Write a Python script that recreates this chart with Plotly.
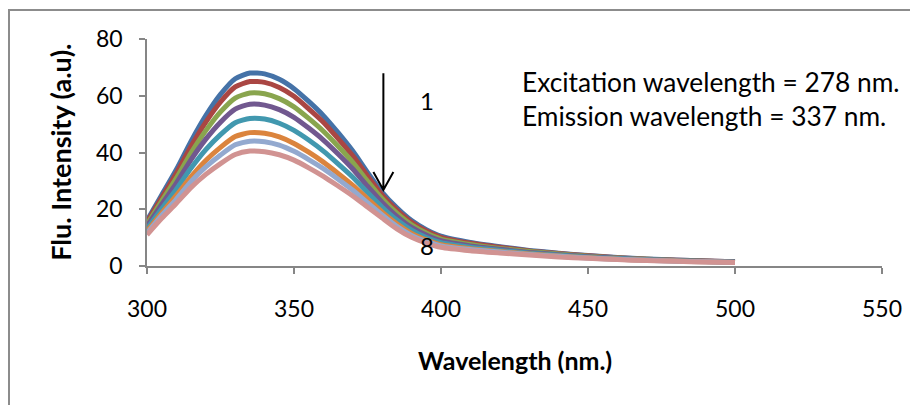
import plotly.graph_objects as go

wavelength = [300, 305, 310, 315, 320, 325, 330, 335, 340, 345, 350, 355, 360, 365, 370,
              375, 380, 385, 390, 395, 400, 410, 420, 430, 440, 450, 460, 470, 480, 490, 500]

s1 = [16.0, 25.0, 34.0, 44.0, 53.0, 60.5, 66.0, 68.0, 67.7, 65.8, 62.5, 58.0, 53.0, 47.0, 40.5,
      33.0, 26.0, 20.5, 16.0, 12.8, 10.5, 8.3, 6.8, 5.5, 4.5, 3.7, 3.0, 2.5, 2.1, 1.8, 1.5]
s2 = [15.5, 24.1, 32.7, 42.2, 50.7, 57.8, 63.1, 65.0, 64.7, 62.9, 59.8, 55.4, 50.7, 44.9, 38.8,
      31.7, 25.0, 19.7, 15.4, 12.3, 10.1, 8.0, 6.6, 5.3, 4.4, 3.6, 2.9, 2.4, 2.05, 1.76, 1.47]
s3 = [14.7, 22.9, 31.0, 39.9, 47.7, 54.3, 59.2, 61.0, 60.7, 59.0, 56.1, 52.0, 47.5, 42.2, 36.5,
      29.9, 23.7, 18.6, 14.5, 11.6, 9.5, 7.6, 6.2, 5.1, 4.2, 3.4, 2.8, 2.35, 1.98, 1.70, 1.42]
s4 = [14.0, 21.7, 29.2, 37.5, 44.7, 50.7, 55.3, 57.0, 56.7, 55.1, 52.4, 48.6, 44.4, 39.5, 34.2,
      28.1, 22.4, 17.5, 13.6, 10.9, 8.9, 7.1, 5.9, 4.8, 4.0, 3.3, 2.7, 2.27, 1.92, 1.65, 1.38]
s5 = [13.1, 20.2, 27.1, 34.5, 41.0, 46.3, 50.5, 52.0, 51.8, 50.3, 47.8, 44.4, 40.5, 36.0, 31.3,
      25.9, 20.7, 16.2, 12.6, 10.0, 8.2, 6.6, 5.5, 4.5, 3.8, 3.1, 2.6, 2.17, 1.83, 1.58, 1.33]
s6 = [12.2, 18.7, 24.9, 31.5, 37.2, 41.8, 45.6, 47.0, 46.8, 45.5, 43.2, 40.1, 36.6, 32.6, 28.4,
      23.7, 19.0, 14.9, 11.5, 9.2, 7.5, 6.1, 5.1, 4.2, 3.5, 2.9, 2.4, 2.06, 1.75, 1.51, 1.27]
s7 = [11.6, 17.8, 23.6, 29.8, 34.9, 39.1, 42.7, 44.0, 43.8, 42.6, 40.4, 37.5, 34.3, 30.6, 26.7,
      22.3, 18.0, 14.0, 10.8, 8.7, 7.1, 5.8, 4.9, 4.1, 3.4, 2.8, 2.35, 2.0, 1.7, 1.47, 1.24]
s8 = [11.0, 16.8, 22.1, 27.7, 32.3, 36.1, 39.3, 40.5, 40.3, 39.2, 37.3, 34.6, 31.6, 28.2, 24.7,
      20.8, 16.9, 13.1, 10.1, 8.1, 6.6, 5.4, 4.6, 3.9, 3.2, 2.7, 2.25, 1.9, 1.65, 1.4, 1.2]

series = [s1, s2, s3, s4, s5, s6, s7, s8]
colors = ["#4572A7", "#AA4643", "#89A54E", "#71588F", "#4198AF", "#DB843D", "#93A9CF", "#D19392"]

x_ticks = [300, 350, 400, 450, 500, 550]
y_ticks = [0, 20, 40, 60, 80]

FONT = "Lato"

fig = go.Figure()
for s, c in zip(series, colors):
    fig.add_trace(go.Scatter(x=wavelength, y=s, mode="lines",
                             line=dict(color=c, width=5, shape="spline", smoothing=0.6),
                             showlegend=False, hoverinfo="skip"))

axis_common = dict(showline=True, linecolor="#868686", linewidth=1.5, ticks="outside",
                   tickcolor="#868686", tickwidth=1.5, ticklen=6, showgrid=False,
                   zeroline=False, tickfont=dict(family=FONT, size=23, color="black"))

fig.update_xaxes(range=[300, 550], tickvals=x_ticks, ticktext=[str(v) for v in x_ticks],
                 ticklabelstandoff=16, **axis_common)
fig.update_yaxes(range=[0, 80], tickvals=y_ticks, ticktext=[str(v) for v in y_ticks],
                 ticklabelstandoff=12, **axis_common)

annotations = [
    dict(text="<b>Wavelength (nm.)</b>", xref="paper", yref="paper", x=0.5, y=-0.414,
         xanchor="center", yanchor="middle", showarrow=False,
         font=dict(family=FONT, size=25, color="black")),
    dict(text="<b>Flu. Intensity (a.u).</b>", xref="paper", yref="paper", x=-0.118, y=0.5,
         xanchor="center", yanchor="middle", showarrow=False, textangle=-90,
         font=dict(family=FONT, size=27, color="black")),
    dict(text="Excitation wavelength = 278 nm.", xref="x", yref="y", x=426.8, y=64.8,
         xanchor="left", yanchor="middle", showarrow=False,
         font=dict(family=FONT, size=26.3, color="black")),
    dict(text="Emission wavelength = 337 nm.", xref="x", yref="y", x=426.8, y=52.8,
         xanchor="left", yanchor="middle", showarrow=False,
         font=dict(family=FONT, size=26.3, color="black")),
    dict(text="1", xref="x", yref="y", x=395.2, y=58.5, xanchor="center", yanchor="middle",
         showarrow=False, font=dict(family=FONT, size=24, color="black")),
    dict(text="8", xref="x", yref="y", x=395.2, y=7.2, xanchor="center", yanchor="middle",
         showarrow=False, font=dict(family=FONT, size=24, color="black")),
]

shapes = [
    dict(type="path", xref="x", yref="y",
         path="M 380.4,67.9 L 380.4,26.8 M 377.0,33.1 L 380.4,26.8 L 383.8,33.1",
         line=dict(color="black", width=2)),
    dict(type="rect", xref="paper", yref="paper", x0=-0.18776, x1=1.3, y0=-0.8, y1=1.1278,
         line=dict(color="#8C8C8C", width=2), layer="below"),
]

# The page body adds an 8px offset, so the figure is drawn 8px smaller than the window.
fig.update_layout(width=910, height=397, margin=dict(l=139, r=36, t=31, b=139),
                  paper_bgcolor="white", plot_bgcolor="white",
                  annotations=annotations, shapes=shapes)

fig.write_html("out.html")
